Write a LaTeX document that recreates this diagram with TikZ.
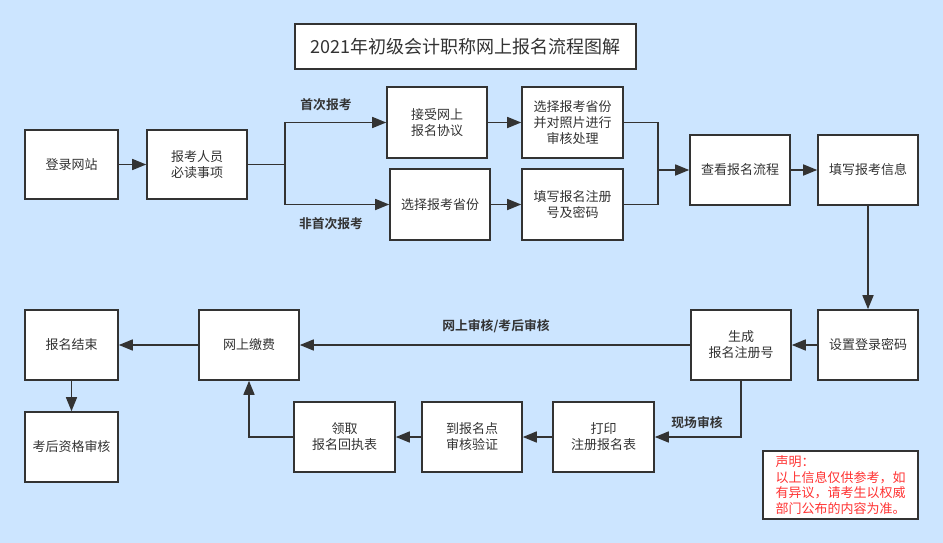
\documentclass[tikz,border=0pt]{standalone}
\usepackage{fontspec}
\newfontfamily\cjk{Noto Sans CJK SC}[BoldFont={Noto Sans CJK SC Bold}]
\usepackage{tikz}
\usetikzlibrary{arrows.meta, positioning}
\usepackage{xcolor}
\definecolor{bgblue}{HTML}{CCE5FF}
\definecolor{linec}{HTML}{333333}
\definecolor{notered}{HTML}{FF3333}

\begin{document}
\begin{tikzpicture}[x=1pt,y=-1pt,
    box/.style={draw=linec, fill=white, line width=1.6pt, minimum width=100pt,
        minimum height=70pt, inner sep=0pt, align=center, text=linec,
        font=\cjk\fontsize{13}{16}\selectfont},
    lab/.style={text=linec, font=\cjk\bfseries\fontsize{12.8}{14}\selectfont},
    conn/.style={draw=linec, line width=1.6pt},
    arr/.style={conn, -{Triangle[length=14pt,width=11pt]}}]
    \useasboundingbox[fill=bgblue] (0,0) rectangle (943,543);

    % title
    \node[box, minimum width=341pt, minimum height=45pt,
        font=\cjk\fontsize{18}{20}\selectfont] (title) at (465.5,46.5)
        {2021年初级会计职称网上报名流程图解};

    % upper row
    \node[box, minimum width=93pt, minimum height=69pt] (login) at (71.5,164.5) {登录网站};
    \node[box, minimum height=69pt] (notice) at (197,164.5) {报考人员\\必读事项};
    \node[box, minimum height=71pt] (accept) at (437,122.5) {接受网上\\报名协议};
    \node[box, minimum width=101pt, minimum height=71pt] (check) at (572.5,122.5)
        {选择报考省份\\并对照片进行\\审核处理};
    \node[box, minimum height=71pt] (selprov) at (440,204.5) {选择报考省份};
    \node[box, minimum width=101pt, minimum height=71pt] (fillreg) at (572.5,204.5)
        {填写报名注册\\号及密码};
    \node[box] (view) at (740,170) {查看报名流程};
    \node[box] (fillinfo) at (868,170) {填写报考信息};

    % middle row
    \node[box] (setpwd) at (868,345) {设置登录密码};
    \node[box] (genreg) at (741,345) {生成\\报名注册号};
    \node[box] (pay) at (249,345) {网上缴费};
    \node[box, minimum width=93pt] (finish) at (71.5,345) {报名结束};
    \node[box, minimum width=93pt] (postchk) at (71.5,447) {考后资格审核};

    % lower row
    \node[box, minimum width=101pt] (print) at (603.5,437) {打印\\注册报名表};
    \node[box] (site) at (472,437) {到报名点\\审核验证};
    \node[box, minimum width=101pt] (receipt) at (344.5,437) {领取\\报名回执表};

    % note
    \node[box, minimum width=155pt, minimum height=68pt, align=left, text=notered,
        font=\cjk\fontsize{13}{15.8}\selectfont] (note) at (840.5,485)
        {声明：\\以上信息仅供参考，如\\有异议，请考生以权威\\部门公布的内容为准。};

    % labels
    \node[lab] (first) at (326,105) {首次报考};
    \node[lab] (notfirst) at (331,224) {非首次报考};
    \node[lab] (online) at (496,326) {网上审核/考后审核};
    \node[lab] (onsite) at (697,423) {现场审核};

    % connectors
    \coordinate (split) at (285,164.5);
    \coordinate (merge) at (658,170);
    \draw[arr] (login) -- (notice);
    \draw[conn] (notice.east) -- (split);
    \draw[arr] (split) |- (accept.west);
    \draw[arr] (split) |- (selprov.west);
    \draw[arr] (accept) -- (check);
    \draw[arr] (selprov) -- (fillreg);
    \draw[conn] (check.east) -| (merge) |- (fillreg.east);
    \draw[arr] (merge) -- (view.west);
    \draw[arr] (view) -- (fillinfo);
    \draw[arr] (fillinfo) -- (setpwd);
    \draw[arr] (setpwd) -- (genreg);
    \draw[arr] (genreg) -- (pay);
    \draw[arr] (pay) -- (finish);
    \draw[arr] (finish) -- (postchk);
    \draw[arr] (genreg.south) |- (print.east);
    \draw[arr] (print) -- (site);
    \draw[arr] (site) -- (receipt);
    \draw[arr] (receipt.west) -| (pay.south);
\end{tikzpicture}
\end{document}
